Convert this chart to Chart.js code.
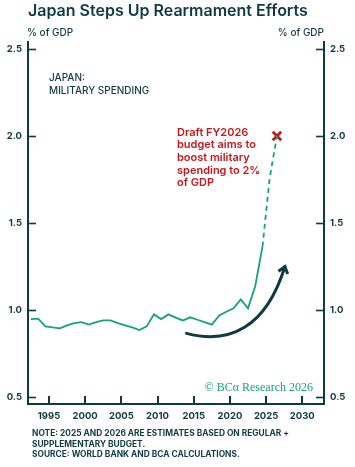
<!DOCTYPE html>
<html>
<head>
<meta charset="utf-8">
<script src="https://cdn.jsdelivr.net/npm/chart.js@4.4.1/dist/chart.umd.min.js"></script>
<style>
  html, body { margin: 0; padding: 0; background: #ffffff; }
  #wrap { position: relative; width: 355px; height: 467px; }
</style>
</head>
<body>
<div id="wrap"><canvas id="c" width="355" height="467"></canvas></div>
<script>
// ---- data ----
const years = [1992,1993,1994,1995,1996,1997,1998,1999,2000,2001,2002,2003,2004,2005,2006,2007,2008,2009,2010,2011,2012,2013,2014,2015,2016,2017,2018,2019,2020,2021,2022,2023,2024,2025,2026];
const actualSpending = [0.948,0.950,0.906,0.900,0.895,0.912,0.925,0.930,0.916,0.930,0.940,0.940,0.925,0.912,0.900,0.885,0.906,0.975,0.948,0.975,0.956,0.940,0.958,0.944,0.930,0.916,0.967,0.990,1.010,1.061,1.010,1.138,1.364,null,null];
const estimatedSpending = [null,null,null,null,null,null,null,null,null,null,null,null,null,null,null,null,null,null,null,null,null,null,null,null,null,null,null,null,null,null,null,null,1.364,1.760,2.000];
const targetYear = [2026];
const targetValue = [2.0];
const yTickValues = [0.5, 1.0, 1.5, 2.0, 2.5];
const xTickValues = [1995, 2000, 2005, 2010, 2015, 2020, 2025, 2030];
// annotation arrow path (data units: start, control1, control2, end)
const arrowYears = [2014.0, 2020.0, 2025.0, 2027.6];
const arrowValues = [0.866, 0.800, 0.900, 1.250];

const title = "Japan Steps Up Rearmament Efforts";
const unitLabel = "% of GDP";
const panelLabel = ["JAPAN:", "MILITARY SPENDING"];
const noteLines = ["Draft FY2026", "budget aims to", "boost military", "spending to 2%", "of GDP"];
const footLines = ["NOTE: 2025 AND 2026 ARE ESTIMATES BASED ON REGULAR +", "SUPPLEMENTARY BUDGET.", "SOURCE: WORLD BANK AND BCA CALCULATIONS."];
const credit = "\u00A9 BC\u03B1 Research 2026";

// ---- styles ----
const DARK = "#0f3a42";
const GREEN = "#17a27a";
const RED = "#c8161e";
const MID = 0.5; // annual observations plotted mid-year

const toPts = (arr) => years.map((y, i) => ({ x: y + MID, y: arr[i] }));

const decor = {
  id: 'decor',
  afterDatasetsDraw(chart) {
    const ctx = chart.ctx;
    const xs = chart.scales.x, ys = chart.scales.y;
    const ca = chart.chartArea;
    ctx.save();
    // tick marks inside plot
    ctx.strokeStyle = DARK;
    ctx.lineWidth = 1.6;
    yTickValues.forEach(v => {
      const py = Math.round(ys.getPixelForValue(v)) + 0.5;
      ctx.beginPath(); ctx.moveTo(ca.left, py); ctx.lineTo(ca.left + 8, py); ctx.stroke();
      ctx.beginPath(); ctx.moveTo(ca.right, py); ctx.lineTo(ca.right - 8, py); ctx.stroke();
    });
    ctx.lineWidth = 2;
    xTickValues.forEach(v => {
      const px = Math.round(xs.getPixelForValue(v));
      ctx.beginPath(); ctx.moveTo(px, ca.bottom); ctx.lineTo(px, ca.bottom - 8); ctx.stroke();
    });

    // arrow
    const P = arrowYears.map((yr, i) => [xs.getPixelForValue(yr), ys.getPixelForValue(arrowValues[i])]);
    ctx.strokeStyle = DARK;
    ctx.lineWidth = 3;
    ctx.lineCap = 'round';
    ctx.beginPath();
    ctx.moveTo(P[0][0], P[0][1]);
    ctx.bezierCurveTo(P[1][0], P[1][1], P[2][0], P[2][1], P[3][0], P[3][1]);
    ctx.stroke();
    const ang = Math.atan2(P[3][1] - P[2][1], P[3][0] - P[2][0]);
    const L = 8, spread = 0.65;
    ctx.lineJoin = 'miter';
    ctx.lineCap = 'butt';
    ctx.beginPath();
    ctx.moveTo(P[3][0] - L * Math.cos(ang - spread), P[3][1] - L * Math.sin(ang - spread));
    ctx.lineTo(P[3][0], P[3][1]);
    ctx.lineTo(P[3][0] - L * Math.cos(ang + spread), P[3][1] - L * Math.sin(ang + spread));
    ctx.stroke();

    // texts
    ctx.textBaseline = 'alphabetic';
    ctx.fillStyle = DARK;
    ctx.textAlign = 'left';
    ctx.font = "600 16px Inter";
    ctx.fillText(title, 28, 16);
    ctx.font = "500 10px Inter";
    ctx.fillText(unitLabel, 27, 36);
    ctx.textAlign = 'right';
    ctx.fillText(unitLabel, 324, 36);
    ctx.textAlign = 'left';
    ctx.font = "500 10px Inter";
    ctx.fillText(panelLabel[0], 49, 81);
    ctx.fillText(panelLabel[1], 49, 93.5);

    ctx.fillStyle = RED;
    ctx.font = "600 11px Inter";
    noteLines.forEach((t, i) => ctx.fillText(t, 177, 135.5 + i * 12.7));

    ctx.fillStyle = GREEN;
    ctx.textAlign = 'right';
    ctx.font = "12px 'Liberation Serif'";
    ctx.fillText(credit, 313, 391);

    ctx.fillStyle = DARK;
    ctx.textAlign = 'left';
    ctx.font = "700 8.4px Inter";
    footLines.forEach((t, i) => ctx.fillText(t, 32, 436 + i * 10.6));
    ctx.restore();
  }
};

const tickFont = { family: 'Inter', size: 9.5, weight: '700' };

new Chart(document.getElementById('c'), {
  type: 'line',
  data: {
    datasets: [
      { data: toPts(actualSpending), borderColor: GREEN, borderWidth: 1.8, pointRadius: 0, tension: 0, spanGaps: false },
      { data: toPts(estimatedSpending), borderColor: GREEN, borderWidth: 1.8, borderDash: [5, 4], pointRadius: 0, tension: 0, spanGaps: false },
      { type: 'scatter', data: targetYear.map((y, i) => ({ x: y + MID, y: targetValue[i] })), pointStyle: 'crossRot', pointRadius: 6, borderColor: RED, borderWidth: 2.8, backgroundColor: RED }
    ]
  },
  options: {
    responsive: false,
    animation: false,
    events: [],
    layout: { padding: { top: 42, bottom: 41, left: 0, right: 0 } },
    plugins: { legend: { display: false }, tooltip: { enabled: false }, title: { display: false } },
    scales: {
      x: {
        type: 'linear', min: 1992.1, max: 2033.0,
        afterBuildTicks: (s) => { s.ticks = xTickValues.map(v => ({ value: v })); },
        afterFit: (s) => { s.height = 22; },
        grid: { display: false, drawTicks: false },
        border: { display: true, color: DARK, width: 2 },
        ticks: { color: DARK, font: tickFont, padding: 6, maxRotation: 0, autoSkip: false, callback: (v) => String(v) }
      },
      y: {
        type: 'linear', position: 'left', min: 0.46, max: 2.54,
        afterBuildTicks: (s) => { s.ticks = yTickValues.map(v => ({ value: v })); },
        afterFit: (s) => { s.width = 28; },
        grid: { display: false, drawTicks: false },
        border: { display: true, color: DARK, width: 2 },
        ticks: { color: DARK, font: tickFont, padding: 6, callback: (v) => v.toFixed(1) }
      },
      y2: {
        type: 'linear', position: 'right', min: 0.46, max: 2.54,
        afterBuildTicks: (s) => { s.ticks = yTickValues.map(v => ({ value: v })); },
        afterFit: (s) => { s.width = 31; },
        grid: { display: false, drawTicks: false },
        border: { display: true, color: DARK, width: 2 },
        ticks: { color: DARK, font: tickFont, padding: 6, callback: (v) => v.toFixed(1) }
      }
    }
  },
  plugins: [decor]
});
</script>
</body>
</html>
